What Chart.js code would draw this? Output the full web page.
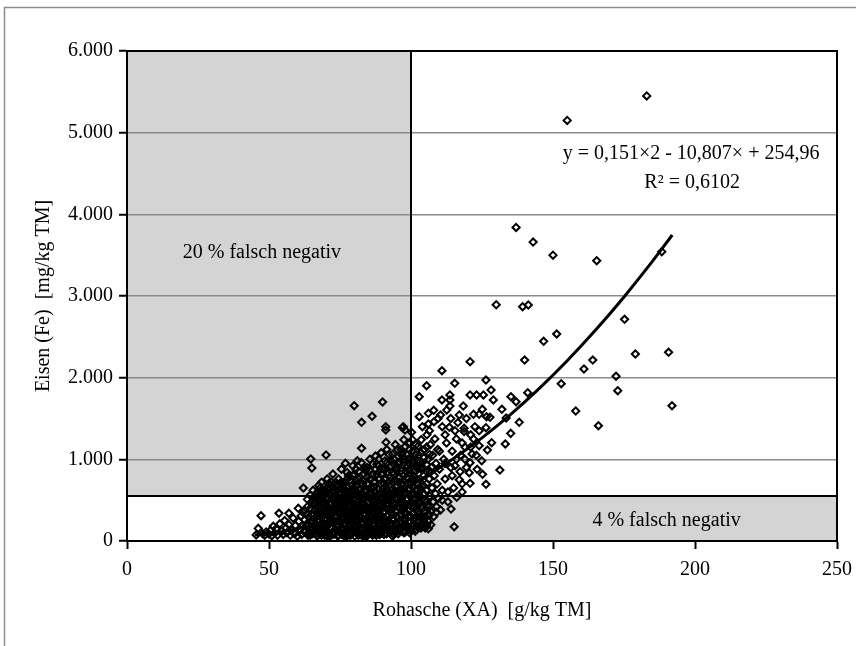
<!DOCTYPE html>
<html>
<head>
<meta charset="utf-8">
<script src="https://cdn.jsdelivr.net/npm/chart.js@4/dist/chart.umd.min.js"></script>
<style>
  body { margin: 0; background: #fff; }
  canvas { display: block; }
</style>
</head>
<body>
<canvas id="chart" width="856" height="646"></canvas>
<script>
'use strict';

// Rohasche (XA) [g/kg TM] / Eisen (Fe) [mg/kg TM]
var messwerte = [
  [45.5,75],[46.2,155],[47.2,310],[47.8,90],[48.5,70],
  [49,110],[50,85],[50.5,130],[51,65],[51.5,180],
  [52,95],[52.5,150],[53,70],[53.5,339],[53.8,210],
  [54.5,120],[55,80],[55.5,250],[56,160],[56.3,100],[57,339],[57,200],
  [57.5,70],[58,130],[58.5,280],[59,90],[59.3,190],[60,60],[60.3,400],[60.5,240],[61,140],[61.3,306],[61.5,80],
  [62,350],[62.1,649],[62.5,110],[63,200],[63.5,420],[63.7,70],[64,290],[64.3,160],[64.7,1004],[65.1,894],
  [65,480],[65.3,90],[65.6,230],[66,370],[66.2,130],[66.5,540],[66.8,300],[67,60],[67.2,190],[67.5,440],[67.8,260],[68,100],[68.3,600],[68.6,612],[68.8,350],
  [69,150],[69.3,500],[69.6,70],[69.8,280],[70,420],[70.1,1053],[70.2,200],[70.5,650],[70.7,110],[71,340],[71.2,560],[71.5,60],[71.7,240],[71.9,673],[72,460],[72.2,150],
  [72.5,380],[72.7,700],[73,90],[73.2,300],[73.5,520],[73.7,190],[74,620],[74.2,60],[74.4,430],[74.6,260],[74.8,130],[75,560],[75.2,340],[75.4,720],[75.6,80],[75.8,470],
  [76,210],[76.2,390],[76.4,640],[76.6,110],[76.9,951],[77,300],[77.2,540],[77.4,60],[77.6,760],[77.8,420],[78,180],[78.2,600],[78.4,270],[78.6,90],[78.8,490],[79,350],[79.2,680],[79.4,140],
  [79.6,800],[79.8,230],[80,1657],[80,420],[80.2,60],[80.4,560],[80.6,310],[80.8,740],[81,120],[81.1,983],[81.2,470],[81.4,200],[81.6,850],[81.8,380],[82,620],[82.2,80],[82.4,280],[82.6,1453],[82.6,1135],[82.8,520],
  [83,700],[83.2,160],[83.4,420],[83.6,900],[83.8,60],[84,330],[84.2,600],[84.4,240],[84.6,780],[84.8,110],[85,480],[85.2,380],[85.4,860],[85.6,180],[85.8,650],[86,290],[86.3,1527],[86.2,540],[86.4,90],
  [86.6,940],[86.8,420],[87,720],[87.2,200],[87.4,340],[87.6,600],[87.8,70],[88,820],[88.2,480],[88.4,260],[88.6,1000],[88.8,140],[89,560],[89.2,380],[89.4,700],[89.6,100],[89.8,890],
  [90,1702],[90,300],[90.2,640],[90.4,470],[90.6,180],[90.8,980],[91,760],[91.1,1400],[91.1,1359],[91.2,1208],[91.2,400],[91.4,90],[91.6,560],[91.8,840],[92,250],[92.2,1060],[92.4,680],[92.6,140],[92.8,480],
  [93,920],[93.2,350],[93.4,760],[93.6,580],[93.8,200],[94,1000],[94.2,440],[94.4,100],[94.6,660],[94.8,300],[95,860],[95.2,1120],[95.4,520],[95.6,160],[95.8,720],[96,400],
  [96.2,960],[96.4,250],[96.6,620],[96.8,1050],[97,1388],[97,480],[97.2,120],[97.3,1400],[97.4,800],[97.6,340],[97.8,1150],[97.9,1359],[98,580],[98.2,200],[98.4,900],[98.6,440],[98.8,700],
  [99,1000],[99.2,300],[99.4,560],[99.6,1200],[99.8,150],[100,820],[100.2,1331],[100.2,420],[100.4,660],[100.6,1100],[100.8,260],[101,950],[101.2,520],[101.4,740],[101.6,380],[101.8,1180],
  [102,180],[102.2,620],[102.4,880],[102.6,460],[102.8,1050],[102.9,1767],[102.9,1522],[103,300],[103.2,760],[103.4,540],[103.6,1240],[103.8,220],[104,960],[104.2,400],[104.4,680],[104.6,1120],[104.8,500],
  [105,300],[105.2,860],[105.5,1902],[105.4,620],[105.6,1300],[105.8,440],[106,1000],[106.1,1563],[106.1,1433],[106.1,151],[106.2,240],[106.4,760],[106.6,550],[106.8,1180],[107,360],[107.2,900],[107.4,650],
  [107.6,1050],[107.8,480],[108,300],[108.1,1461],[108.2,800],[108.4,1250],[108.6,580],[108.8,950],[109,420],[109.2,700],[109.4,1120],[109.6,520],[110,880],[110.4,380],[110.4,1543],[110.9,2085],[110.9,1727],[111,620],[111.5,1000],
  [112,760],[112.6,1604],[112.5,1200],[113,480],[113.5,1392],[113.7,1788],[113.7,1727],[113.7,1653],[114,900],[114.1,392],[114.5,1100],[115,650],[115.2,175],[115.4,1931],[115.5,922],[116,1250],[116.1,535],
  [117,1543],[117.3,849],[117.5,1050],[118,700],[118.4,1653],[118.7,1380],[118.7,1340],[119,1150],[119.5,900],[120.5,836],[120.8,706],[120.8,959],[120.8,2196],[120.8,1788],[121.5,1065],[122,1551],[122,1250],
  [104,1400],[106.5,1350],[108,1600],[109.5,1500],[111,1400],[112,1300],[114,1500],[115.5,1350],[116.5,1450],[118,1200],[119.5,1500],[121,1300],[122.5,1400],[124,1350],
  [110,1100],[112,950],[114.5,800],[116,1000],[117,750],[119,1000],[121,1150],[123,1050],[118,600],[113,600],[111,500],[109,350],[107,200],[105,160],
  [123.1,1788],[123.3,878],[124,1551],[124,1167],[124.9,983],[125.2,817],[125.1,1612],[125.5,1788],[126.4,1971],[126.4,1388],[126.4,694],[126.6,1522],[126.9,1114],[127.8,1514],[128.2,1849],[128.4,1204],[129,1727],[130,2893],[131.3,869],[132,1612],[133.2,1188],[133.5,1506],
  [135.1,1318],[135.2,1767],[137,1706],[137,3840],[138.1,1453],[139.3,2869],[140,2216],[141.1,1816],[141.3,2890],[143,3660],[146.7,2445],[150,3500],[151.3,2535],[152.9,1926],[155,5150],[158,1592],[160.9,2106],[164,2216],[165.4,3432],[166,1412],[172.2,2017],[172.8,1841],[175.2,2715],[179,2290],[183,5450],[188.3,3543],[190.7,2311],[191.9,1657]
];

// the solid black core of the cloud, x 62–107
var messwerteKern = [
  [62.5,120],[62.5,260],[62.5,380],[63.5,90],[63.5,180],[63.5,330],[63.5,510],
  [64.5,70],[64.5,240],[64.5,400],[64.5,560],[65.5,150],[65.5,310],[65.5,460],[65.5,620],
  [66.5,80],[66.5,210],[66.5,400],[66.5,580],[67.5,130],[67.5,330],[67.5,500],[67.5,680],
  [68.5,70],[68.5,220],[68.5,420],[68.5,540],[68.5,720],[69.5,110],[69.5,340],[69.5,460],[69.5,620],
  [70.5,60],[70.5,260],[70.5,380],[70.5,520],[70.5,760],[71.5,170],[71.5,290],[71.5,440],[71.5,640],
  [72.5,80],[72.5,230],[72.5,500],[72.5,600],[72.5,820],[73.5,140],[73.5,380],[73.5,450],[73.5,680],
  [74.5,70],[74.5,200],[74.5,340],[74.5,520],[74.5,760],[75.5,150],[75.5,270],[75.5,410],[75.5,640],[75.5,880],
  [76.5,60],[76.5,330],[76.5,480],[76.5,560],[76.5,720],[77.5,120],[77.5,240],[77.5,370],[77.5,660],[77.5,840],
  [78.5,70],[78.5,200],[78.5,330],[78.5,420],[78.5,540],[78.5,740],[79.5,110],[79.5,280],[79.5,460],[79.5,600],[79.5,920],
  [80.5,160],[80.5,240],[80.5,380],[80.5,500],[80.5,680],[80.5,880],[81.5,70],[81.5,300],[81.5,420],[81.5,560],[81.5,760],
  [82.5,140],[82.5,220],[82.5,360],[82.5,460],[82.5,700],[82.5,960],[83.5,90],[83.5,260],[83.5,340],[83.5,520],[83.5,620],[83.5,820],
  [84.5,60],[84.5,180],[84.5,420],[84.5,540],[84.5,700],[84.5,900],[85.5,130],[85.5,250],[85.5,330],[85.5,580],[85.5,760],[85.5,1000],
  [86.5,70],[86.5,200],[86.5,360],[86.5,480],[86.5,640],[86.5,820],[87.5,140],[87.5,280],[87.5,420],[87.5,540],[87.5,880],[87.5,1040],
  [88.5,90],[88.5,190],[88.5,340],[88.5,640],[88.5,760],[88.5,920],[89.5,160],[89.5,260],[89.5,440],[89.5,500],[89.5,820],[89.5,1080],
  [90.5,80],[90.5,220],[90.5,360],[90.5,560],[90.5,700],[90.5,880],[91.5,140],[91.5,300],[91.5,460],[91.5,640],[91.5,960],[91.5,1120],
  [92.5,100],[92.5,200],[92.5,380],[92.5,540],[92.5,780],[92.5,900],[93.5,60],[93.5,260],[93.5,460],[93.5,640],[93.5,840],[93.5,1060],
  [94.5,180],[94.5,360],[94.5,520],[94.5,740],[94.5,880],[94.5,1180],[95.5,90],[95.5,280],[95.5,420],[95.5,600],[95.5,960],[95.5,1040],
  [96.5,150],[96.5,330],[96.5,520],[96.5,700],[96.5,860],[96.5,1120],[97.5,100],[97.5,250],[97.5,440],[97.5,620],[97.5,960],[97.5,1240],
  [98.5,160],[98.5,340],[98.5,500],[98.5,780],[98.5,1060],[99.5,100],[99.5,230],[99.5,440],[99.5,640],[99.5,880],[99.5,1120],
  [100.5,180],[100.5,340],[100.5,560],[100.5,760],[100.5,980],[100.5,1240],[101.5,120],[101.5,280],[101.5,460],[101.5,620],[101.5,860],[101.5,1060],
  [102.5,230],[102.5,360],[102.5,540],[102.5,700],[102.5,980],[102.5,1160],[103.5,160],[103.5,420],[103.5,620],[103.5,880],[103.5,1080],
  [104.5,260],[104.5,360],[104.5,580],[104.5,800],[104.5,1020],[105.5,200],[105.5,480],[105.5,700],[105.5,940],[105.5,1150],
  [106.5,320],[106.5,420],[106.5,860],[106.5,1060]
];

// more of the core, where the cloud is fully black
var messwerteKern2 = [
  [66,100],[66,280],[66,450],[67,160],[67,350],[67,540],[68,90],[68,300],[68,480],[68,650],
  [69,200],[69,390],[69,560],[70,130],[70,330],[70,470],[70,600],[71,90],[71,230],[71,410],[71,700],
  [72,160],[72,330],[72,560],[72,720],[73,110],[73,250],[73,420],[73,620],[74,170],[74,300],[74,480],[74,700],
  [75,100],[75,230],[75,390],[75,600],[76,150],[76,290],[76,440],[76,680],[77,90],[77,200],[77,460],[77,620],
  [78,130],[78,350],[78,500],[78,800],[79,80],[79,240],[79,420],[79,560],[80,180],[80,300],[80,640],[80,820],
  [81,100],[81,260],[81,380],[81,600],[82,160],[82,420],[82,540],[82,780],[83,60],[83,220],[83,470],[83,740],
  [84,120],[84,380],[84,620],[84,860],[85,90],[85,210],[85,540],[85,700],[86,160],[86,420],[86,580],[86,760],
  [87,100],[87,260],[87,480],[87,660],[88,140],[88,380],[88,560],[88,940],[89,80],[89,300],[89,460],[89,760],
  [90,150],[90,420],[90,520],[90,820],[91,100],[91,240],[91,600],[91,880],[92,170],[92,320],[92,460],[92,720],
  [93,120],[93,420],[93,560],[93,980],[94,80],[94,260],[94,600],[94,820],[95,200],[95,360],[95,680],[95,900],
  [96,120],[96,460],[96,560],[96,780],[97,180],[97,380],[97,700],[97,1080],[98,110],[98,260],[98,460],[98,860],
  [99,180],[99,380],[99,760],[99,960],[100,120],[100,300],[100,480],[100,700],[101,200],[101,420],[101,580],[101,800],
  [102,140],[102,300],[102,760],[102,920],[103,240],[103,460],[103,660],[103,960],[104,180],[104,300],[104,520],[104,880]
];

// polynomial trend line
var kurveX = [45, 55, 65, 75, 85, 95, 105, 115, 125, 135, 145, 155, 165, 175, 185, 192];
var kurveY = [74, 117, 190, 294, 427, 591, 785, 1009, 1263, 1548, 1863, 2208, 2583, 2988, 3424, 3747];

// limits of the shaded areas
var grenzeXA = 100;
var grenzeFe = 550;

var serif = '"Liberation Serif", "Times New Roman", serif';
var grau = 'rgb(212,212,212)';

var punkte = messwerte.concat(messwerteKern, messwerteKern2).map(function (p) { return { x: p[0], y: p[1] }; });
var kurve = kurveX.map(function (x, i) { return { x: x, y: kurveY[i] }; });

// frame, shaded areas and texts
var flaechenPlugin = {
  id: 'flaechen',
  beforeDraw: function (chart) {
    var ctx = chart.ctx;
    var xs = chart.scales.x, ys = chart.scales.y;
    ctx.save();
    ctx.fillStyle = '#fff';
    ctx.fillRect(0, 0, chart.width, chart.height);
    ctx.strokeStyle = '#8c8c8c';
    ctx.lineWidth = 1.5;
    ctx.strokeRect(4.5, 7.5, chart.width + 20, chart.height + 20);
    ctx.fillStyle = grau;
    var x0 = xs.getPixelForValue(0), x1 = xs.getPixelForValue(grenzeXA), x2 = xs.getPixelForValue(250);
    var y0 = ys.getPixelForValue(0), y1 = ys.getPixelForValue(grenzeFe), y2 = ys.getPixelForValue(6000);
    ctx.fillRect(x0, y2, x1 - x0, y1 - y2);
    ctx.fillRect(x1, y1, x2 - x1, y0 - y1);
    ctx.restore();
  },
  beforeDatasetsDraw: function (chart) {
    var ctx = chart.ctx;
    var xs = chart.scales.x, ys = chart.scales.y;
    var a = chart.chartArea;
    ctx.save();
    ctx.strokeStyle = '#000';
    ctx.lineWidth = 2;
    ctx.beginPath();
    var xl = Math.round(xs.getPixelForValue(grenzeXA));
    ctx.moveTo(xl, a.top);
    ctx.lineTo(xl, a.bottom);
    var yl = Math.round(ys.getPixelForValue(grenzeFe));
    ctx.moveTo(a.left, yl);
    ctx.lineTo(a.right, yl);
    ctx.stroke();
    ctx.strokeRect(a.left, a.top, a.right - a.left, a.bottom - a.top);
    ctx.restore();
  },
  afterDatasetsDraw: function (chart) {
    var ctx = chart.ctx;
    var xs = chart.scales.x, ys = chart.scales.y;
    ctx.save();
    ctx.fillStyle = '#000';
    ctx.font = '20px ' + serif;
    ctx.textAlign = 'center';
    ctx.textBaseline = 'middle';
    ctx.fillText('20 % falsch negativ', xs.getPixelForValue(47.5), ys.getPixelForValue(3530));
    ctx.fillText('4 % falsch negativ', xs.getPixelForValue(190), ys.getPixelForValue(245));
    ctx.fillText('y = 0,151×2 - 10,807× + 254,96', xs.getPixelForValue(198.6), ys.getPixelForValue(4740));
    ctx.fillText('R² = 0,6102', xs.getPixelForValue(199), ys.getPixelForValue(4385));
    ctx.restore();
  }
};

var ctx = document.getElementById('chart').getContext('2d');
var chart = new Chart(ctx, {
  type: 'scatter',
  data: {
    datasets: [
      {
        label: 'Trend',
        type: 'line',
        data: kurve,
        borderColor: '#000',
        borderWidth: 3,
        pointRadius: 0,
        fill: false,
        tension: 0.4
      },
      {
        label: 'Messwerte',
        data: punkte,
        pointStyle: 'rectRot',
        pointRadius: 3.6,
        borderWidth: 2,
        borderColor: '#000',
        backgroundColor: 'rgba(0,0,0,0)'
      }
    ]
  },
  options: {
    responsive: false,
    animation: false,
    layout: { padding: { left: 0, top: 51, right: 19, bottom: 0 } },
    plugins: {
      legend: { display: false },
      tooltip: { enabled: false }
    },
    scales: {
      x: {
        type: 'linear',
        min: 0,
        max: 250,
        afterFit: function (s) { s.height = 105; s.paddingRight = 0; s.paddingLeft = 0; },
        ticks: {
          stepSize: 50,
          padding: 9,
          color: '#000',
          font: { family: serif, size: 20 }
        },
        grid: {
          drawOnChartArea: false,
          drawTicks: true,
          tickLength: 8,
          tickColor: '#000',
          tickWidth: 2
        },
        border: { color: '#000', width: 2 },
        title: {
          display: true,
          text: 'Rohasche (XA)  [g/kg TM]',
          color: '#000',
          font: { family: serif, size: 20 },
          padding: { top: 0, bottom: 23 }
        }
      },
      y: {
        type: 'linear',
        min: 0,
        max: 6000,
        afterFit: function (s) { s.width = 127; },
        ticks: {
          stepSize: 1000,
          padding: 6,
          color: '#000',
          font: { family: serif, size: 20 },
          callback: function (v) { return v.toLocaleString('de-DE'); }
        },
        grid: {
          color: '#8a8a8a',
          lineWidth: 1.5,
          tickLength: 8,
          tickColor: '#000',
          tickWidth: 2
        },
        border: { color: '#000', width: 2 },
        title: {
          display: true,
          text: 'Eisen (Fe)  [mg/kg TM]',
          color: '#000',
          font: { family: serif, size: 20 },
          padding: { top: 32, bottom: 0 }
        }
      }
    }
  },
  plugins: [flaechenPlugin]
});
</script>
</body>
</html>
